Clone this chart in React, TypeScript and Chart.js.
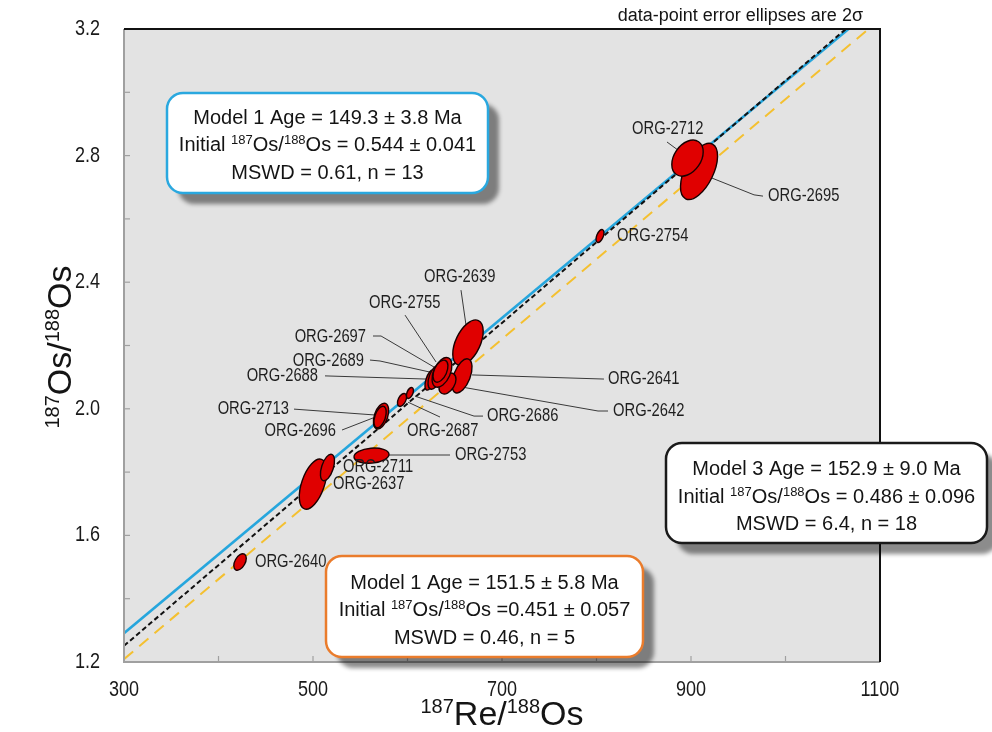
import { useEffect, useRef } from 'react';
import { Chart, registerables } from 'chart.js';

Chart.register(...registerables);

// ---------------- data ----------------
const sampleNames = [
  'ORG-2640', 'ORG-2637', 'ORG-2711', 'ORG-2753', 'ORG-2713', 'ORG-2696',
  'ORG-2687', 'ORG-2686', 'ORG-2639', 'ORG-2641', 'ORG-2642', 'ORG-2688',
  'ORG-2689', 'ORG-2755', 'ORG-2697', 'ORG-2754', 'ORG-2695', 'ORG-2712',
];
// 187Re/188Os
const reOs = [422.8, 500.0, 515.3, 561.9, 572.0, 571.0, 594.2, 602.6, 664.0, 657.7, 642.3, 623.8, 629.1, 636.5, 634.9, 803.7, 908.5, 896.3];
// 187Os/188Os
const osOs = [1.516, 1.762, 1.8145, 1.852, 1.977, 1.974, 2.028, 2.05, 2.209, 2.104, 2.08, 2.091, 2.1, 2.115, 2.119, 2.546, 2.75, 2.792];
// 2-sigma uncertainties
const reErr2s = [6.6, 14.5, 7.45, 18.5, 8.1, 6.5, 4.8, 3.7, 16.1, 10.6, 9.0, 5.3, 7.4, 10.5, 7.9, 4.2, 19.6, 16.6];
const osErr2s = [0.0259, 0.0793, 0.042, 0.024, 0.0407, 0.034, 0.0205, 0.0174, 0.0717, 0.054, 0.033, 0.032, 0.038, 0.047, 0.0348, 0.0205, 0.0886, 0.0569];
const errRho = [0.45, 0.5, 0.5, 0.16, 0.42, 0.45, 0.45, 0.45, 0.5, 0.5, 0.4, 0.55, 0.5, 0.45, 0.45, 0.5, 0.55, 0.35];

// isochron lines (end points at x = 300 and x = 1100)
const isochronRe = [300, 1100];
const model1aOs = [1.291, 3.283]; // blue, n = 13
const model3Os = [1.251, 3.292]; // black dashed, n = 18
const model1bOs = [1.209, 3.231]; // yellow dashed, n = 5

// axis tick labels
const xTickLabels = [300, 500, 700, 900, 1100];
const yTickLabels = [1.2, 1.6, 2.0, 2.4, 2.8, 3.2];

// sample label layout (data coordinates)
type LabelSpec = { name: string; at: [number, number]; align: 'left' | 'right'; leader: [number, number][] };
const labelLayout: LabelSpec[] = [
  { name: 'ORG-2640', at: [438.6, 1.516], align: 'left', leader: [] },
  { name: 'ORG-2637', at: [521.2, 1.762], align: 'left', leader: [] },
  { name: 'ORG-2711', at: [531.7, 1.816], align: 'left', leader: [] },
  { name: 'ORG-2753', at: [650.3, 1.854], align: 'left', leader: [[645.0, 1.854], [580.4, 1.854]] },
  { name: 'ORG-2713', at: [474.6, 1.999], align: 'right', leader: [[479.9, 1.999], [567.7, 1.98]] },
  { name: 'ORG-2696', at: [524.3, 1.93], align: 'right', leader: [[530.7, 1.933], [563.5, 1.971]] },
  { name: 'ORG-2687', at: [599.5, 1.93], align: 'left', leader: [[634.4, 1.974], [600.5, 2.021]] },
  { name: 'ORG-2686', at: [684.1, 1.977], align: 'left', leader: [[679.9, 1.977], [670.4, 1.977], [607.9, 2.04]] },
  { name: 'ORG-2641', at: [812.2, 2.094], align: 'left', leader: [[807.9, 2.094], [668.3, 2.107]] },
  { name: 'ORG-2642', at: [817.5, 1.993], align: 'left', leader: [[812.2, 1.993], [801.6, 1.993], [651.3, 2.072]] },
  { name: 'ORG-2639', at: [617.5, 2.416], align: 'left', leader: [[656.6, 2.375], [661.9, 2.265]] },
  { name: 'ORG-2755', at: [559.3, 2.334], align: 'left', leader: [[597.4, 2.296], [630.2, 2.148]] },
  { name: 'ORG-2697', at: [556.1, 2.227], align: 'right', leader: [[563.5, 2.23], [572.0, 2.23], [628.0, 2.132]] },
  { name: 'ORG-2689', at: [554.0, 2.151], align: 'right', leader: [[560.3, 2.154], [570.9, 2.151], [623.8, 2.116]] },
  { name: 'ORG-2688', at: [505.3, 2.104], align: 'right', leader: [[512.7, 2.104], [619.6, 2.094]] },
  { name: 'ORG-2754', at: [821.7, 2.546], align: 'left', leader: [] },
  { name: 'ORG-2712', at: [837.6, 2.884], align: 'left', leader: [[874.6, 2.843], [887.3, 2.815]] },
  { name: 'ORG-2695', at: [981.5, 2.672], align: 'left', leader: [[976.2, 2.672], [966.7, 2.676], [922.2, 2.729]] },
];

// result boxes
type Run = { t: string; sup?: boolean };
const initRuns = (rest: string): Run[] => [
  { t: 'Initial ' }, { t: '187', sup: true }, { t: 'Os/' }, { t: '188', sup: true }, { t: 'Os' + rest },
];
const resultBoxes = [
  { border: '#2aa8df', rect: [167, 93, 321, 100], cx: 327.5, lines: [117, 144, 172],
    text: [[{ t: 'Model 1 Age = 149.3 \u00b1 3.8 Ma' }], initRuns(' = 0.544 \u00b1 0.041'), [{ t: 'MSWD = 0.61, n = 13' }]] },
  { border: '#ea7c2c', rect: [326, 556, 317, 101], cx: 484.5, lines: [582, 609, 637],
    text: [[{ t: 'Model 1 Age = 151.5 \u00b1 5.8 Ma' }], initRuns(' =0.451 \u00b1 0.057'), [{ t: 'MSWD = 0.46, n = 5' }]] },
  { border: '#1a1a1a', rect: [666, 443, 321, 100], cx: 826.5, lines: [468, 496, 523],
    text: [[{ t: 'Model 3 Age = 152.9 \u00b1 9.0 Ma' }], initRuns(' = 0.486 \u00b1 0.096'), [{ t: 'MSWD = 6.4, n = 18' }]] },
];

// ---------------- fonts ----------------
const FAMILY = "'Liberation Sans', Arial, Helvetica, sans-serif";
const NARROW_FAMILY = "'Liberation Sans Narrow', 'Arial Narrow', 'Liberation Sans', Arial, sans-serif";
const HAS_NARROW = (() => {
  try {
    const c = document.createElement('canvas').getContext('2d')!;
    c.font = "40px 'Liberation Sans'";
    const w1 = c.measureText('ORG-2712 data').width;
    c.font = "40px 'Liberation Sans Narrow', 'Liberation Sans'";
    const w2 = c.measureText('ORG-2712 data').width;
    return w2 < w1 * 0.95;
  } catch {
    return false;
  }
})();

function narrowText(ctx: CanvasRenderingContext2D, text: string, x: number, y: number, size: number, align: CanvasTextAlign) {
  ctx.save();
  ctx.textAlign = align;
  ctx.textBaseline = 'middle';
  if (HAS_NARROW) {
    ctx.font = `${size}px ${NARROW_FAMILY}`;
    ctx.fillText(text, x, y);
  } else {
    ctx.translate(x, y);
    ctx.scale(0.82, 1);
    ctx.font = `${size}px ${FAMILY}`;
    ctx.fillText(text, 0, 0);
  }
  ctx.restore();
}

function richText(ctx: CanvasRenderingContext2D, runs: Run[], x: number, cy: number, size: number, supSize: number) {
  ctx.save();
  ctx.textAlign = 'left';
  ctx.textBaseline = 'alphabetic';
  const widths = runs.map((r) => {
    ctx.font = `${r.sup ? supSize : size}px ${FAMILY}`;
    return ctx.measureText(r.t).width;
  });
  const total = widths.reduce((a, b) => a + b, 0);
  let cur = x - total / 2;
  const base = cy + size * 0.36;
  runs.forEach((r, i) => {
    ctx.font = `${r.sup ? supSize : size}px ${FAMILY}`;
    ctx.fillText(r.t, cur, r.sup ? base - size * 0.36 : base);
    cur += widths[i];
  });
  ctx.restore();
}

function roundRect(ctx: CanvasRenderingContext2D, x: number, y: number, w: number, h: number, r: number) {
  ctx.beginPath();
  ctx.moveTo(x + r, y);
  ctx.lineTo(x + w - r, y);
  ctx.arcTo(x + w, y, x + w, y + r, r);
  ctx.lineTo(x + w, y + h - r);
  ctx.arcTo(x + w, y + h, x + w - r, y + h, r);
  ctx.lineTo(x + r, y + h);
  ctx.arcTo(x, y + h, x, y + h - r, r);
  ctx.lineTo(x, y + r);
  ctx.arcTo(x, y, x + r, y, r);
  ctx.closePath();
}

const decorPlugin = {
  id: 'isochronDecor',
  beforeDraw(chart: any) {
    const { ctx, chartArea: a } = chart;
    ctx.save();
    ctx.fillStyle = '#ffffff';
    ctx.fillRect(0, 0, chart.width, chart.height);
    ctx.fillStyle = '#e3e3e3';
    ctx.fillRect(a.left, a.top, a.right - a.left, a.bottom - a.top);
    ctx.restore();
  },
  afterDatasetsDraw(chart: any) {
    const { ctx, chartArea: a } = chart;
    const X = chart.scales.x;
    const Y = chart.scales.y;
    const px = (v: number) => X.getPixelForValue(v);
    const py = (v: number) => Y.getPixelForValue(v);

    // leader lines
    ctx.save();
    ctx.strokeStyle = '#3a3a3a';
    ctx.lineWidth = 1;
    labelLayout.forEach((l) => {
      if (!l.leader.length) return;
      ctx.beginPath();
      l.leader.forEach((p, i) => (i ? ctx.lineTo(px(p[0]), py(p[1])) : ctx.moveTo(px(p[0]), py(p[1]))));
      ctx.stroke();
    });
    ctx.restore();

    // error ellipses
    const kx = Math.abs(px(1) - px(0));
    const ky = Math.abs(py(1) - py(0));
    ctx.save();
    ctx.beginPath();
    ctx.rect(a.left, a.top, a.right - a.left, a.bottom - a.top);
    ctx.clip();
    for (let i = 0; i < reOs.length; i++) {
      const cx = px(reOs[i]);
      const cy = py(osOs[i]);
      const sx = reErr2s[i] * kx;
      const sy = osErr2s[i] * ky;
      const cxx = sx * sx;
      const cyy = sy * sy;
      const cxy = -errRho[i] * sx * sy;
      const m = (cxx + cyy) / 2;
      const d = Math.sqrt(((cxx - cyy) / 2) ** 2 + cxy * cxy);
      const l1 = m + d;
      const l2 = Math.max(m - d, 0.25);
      const ang = 0.5 * Math.atan2(2 * cxy, cxx - cyy);
      ctx.beginPath();
      ctx.ellipse(cx, cy, Math.sqrt(l1), Math.sqrt(l2), ang, 0, Math.PI * 2);
      ctx.fillStyle = '#e00000';
      ctx.fill();
      ctx.strokeStyle = '#1a0000';
      ctx.lineWidth = 1.4;
      ctx.stroke();
    }
    ctx.restore();

    // sample labels
    ctx.save();
    ctx.fillStyle = '#1e1e1e';
    labelLayout.forEach((l) => {
      narrowText(ctx, l.name, px(l.at[0]), py(l.at[1]), 18, l.align);
    });
    ctx.restore();

    // frame and tick marks
    ctx.save();
    ctx.lineWidth = 2;
    ctx.strokeStyle = '#a0a0a0';
    ctx.beginPath();
    ctx.moveTo(a.left, a.top);
    ctx.lineTo(a.left, a.bottom);
    ctx.lineTo(a.right, a.bottom);
    ctx.stroke();
    ctx.lineWidth = 1.2;
    X.ticks.forEach((t: any) => {
      const x = px(t.value);
      ctx.beginPath();
      ctx.moveTo(x, a.bottom);
      ctx.lineTo(x, a.bottom - 6);
      ctx.stroke();
    });
    Y.ticks.forEach((t: any) => {
      const y = py(t.value);
      ctx.beginPath();
      ctx.moveTo(a.left, y);
      ctx.lineTo(a.left + 6, y);
      ctx.stroke();
    });
    ctx.strokeStyle = '#111';
    ctx.lineWidth = 2;
    ctx.beginPath();
    ctx.moveTo(a.left, a.top);
    ctx.lineTo(a.right, a.top);
    ctx.lineTo(a.right, a.bottom);
    ctx.stroke();
    ctx.restore();

    // tick labels (from the scales' ticks)
    ctx.save();
    ctx.fillStyle = '#1a1a1a';
    X.ticks.forEach((t: any) => {
      if (xTickLabels.includes(Math.round(t.value))) narrowText(ctx, String(Math.round(t.value)), px(t.value), a.bottom + 28, 22, 'center');
    });
    Y.ticks.forEach((t: any) => {
      if (yTickLabels.some((v) => Math.abs(v - t.value) < 1e-6)) narrowText(ctx, Number(t.value).toFixed(1), a.left - 24, py(t.value), 22, 'right');
    });
    ctx.restore();

    // result boxes
    resultBoxes.forEach((b) => {
      const [x, y, w, h] = b.rect;
      ctx.save();
      ctx.shadowColor = 'rgba(0,0,0,0.45)';
      ctx.shadowBlur = 4;
      ctx.shadowOffsetX = 11;
      ctx.shadowOffsetY = 11;
      roundRect(ctx, x, y, w, h, 16);
      ctx.fillStyle = '#ffffff';
      ctx.fill();
      ctx.restore();
      ctx.save();
      roundRect(ctx, x, y, w, h, 16);
      ctx.strokeStyle = b.border;
      ctx.lineWidth = 2.5;
      ctx.stroke();
      ctx.fillStyle = '#141414';
      b.text.forEach((runs, i) => richText(ctx, runs as Run[], b.cx, b.lines[i], 20, 13));
      ctx.restore();
    });

    // note
    ctx.save();
    ctx.fillStyle = '#141414';
    ctx.font = `18px ${FAMILY}`;
    ctx.textAlign = 'right';
    ctx.textBaseline = 'middle';
    ctx.fillText('data-point error ellipses are 2\u03c3', 863, 16);
    ctx.restore();

    // axis titles
    ctx.save();
    ctx.fillStyle = '#141414';
    richText(ctx, [{ t: '187', sup: true }, { t: 'Re/' }, { t: '188', sup: true }, { t: 'Os' }], 502, 713, 34, 20);
    ctx.translate(59, 347);
    ctx.rotate(-Math.PI / 2);
    richText(ctx, [{ t: '187', sup: true }, { t: 'Os/' }, { t: '188', sup: true }, { t: 'Os' }], 0, 0, 34, 20);
    ctx.restore();
  },
};

export default function App() {
  const ref = useRef<HTMLCanvasElement>(null);
  useEffect(() => {
    if (!ref.current) return;
    const line = (ys: number[], color: string, dash: number[], width: number) => ({
      type: 'line' as const,
      data: isochronRe.map((x, i) => ({ x, y: ys[i] })),
      borderColor: color,
      borderWidth: width,
      borderDash: dash,
      pointRadius: 0,
      fill: false,
      showLine: true,
    });
    const chart = new Chart(ref.current, {
      type: 'scatter',
      data: {
        datasets: [
          line(model3Os, '#111111', [5, 3], 2),
          line(model1aOs, '#26a6dd', [], 2.6),
          line(model1bOs, '#f4c030', [12, 8], 2),
        ] as any,
      },
      options: {
        animation: false,
        responsive: false,
        maintainAspectRatio: false,
        layout: { padding: { left: 0, top: 29, right: 112, bottom: 0 } },
        plugins: { legend: { display: false }, tooltip: { enabled: false } },
        scales: {
          x: {
            type: 'linear',
            min: 300,
            max: 1100,
            border: { display: false },
            grid: { display: false, drawTicks: false },
            ticks: { stepSize: 100, autoSkip: false, display: false },
            afterFit: (s: any) => {
              s.height = 70;
            },
          },
          y: {
            type: 'linear',
            min: 1.2,
            max: 3.2,
            border: { display: false },
            grid: { display: false, drawTicks: false },
            ticks: { stepSize: 0.2, autoSkip: false, display: false },
            afterFit: (s: any) => {
              s.width = 124;
            },
          },
        },
      } as any,
      plugins: [decorPlugin],
    });
    return () => chart.destroy();
  }, []);
  return (
    <div style={{ position: 'fixed', left: 0, top: 0, width: 992, height: 732, background: '#fff' }}>
      <canvas ref={ref} width={992} height={732} style={{ display: 'block' }} />
    </div>
  );
}
